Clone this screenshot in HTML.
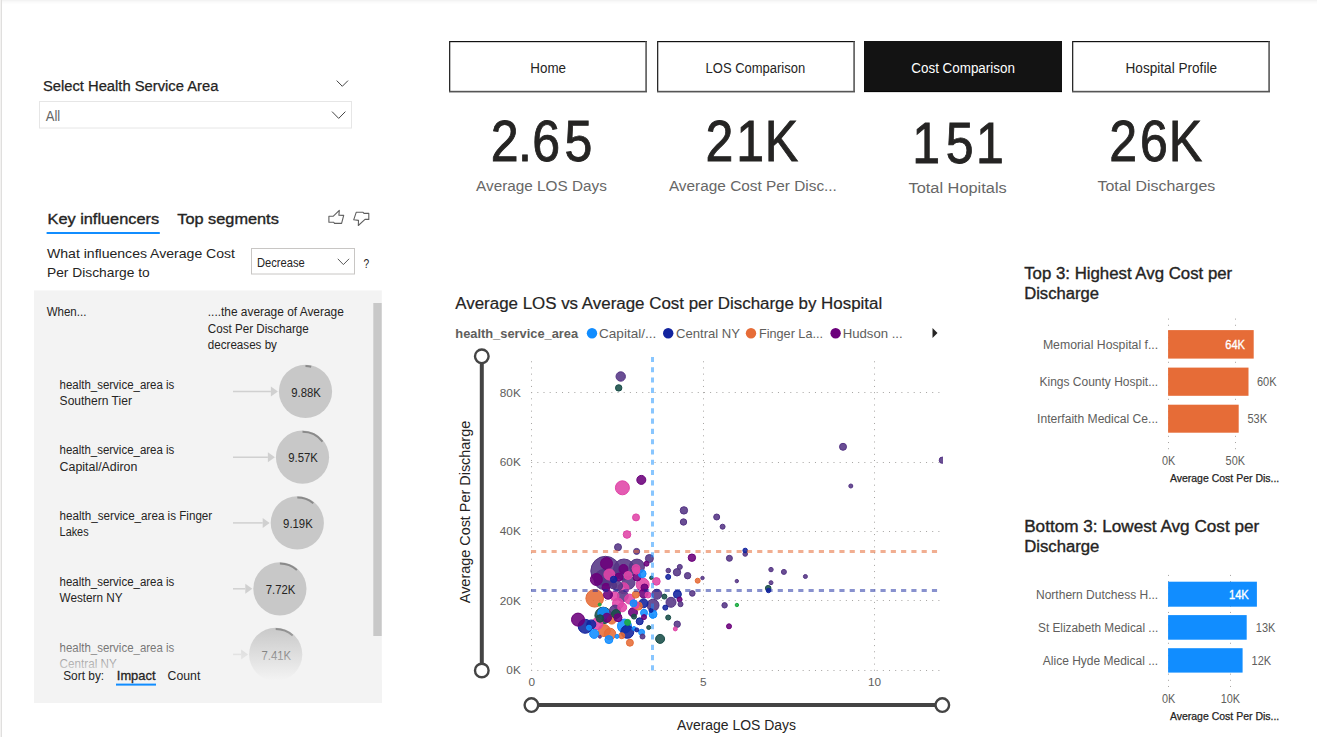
<!DOCTYPE html>
<html><head><meta charset="utf-8"><title>Cost Comparison</title>
<style>
html,body{margin:0;padding:0;background:#fff;width:1317px;height:737px;overflow:hidden}
svg{display:block;font-family:"Liberation Sans", Arial, sans-serif}
</style></head><body>
<svg width="1317" height="737" viewBox="0 0 1317 737">
<defs><linearGradient id="topsh" x1="0" y1="0" x2="0" y2="1"><stop offset="0" stop-color="#e9e9e9"/><stop offset="1" stop-color="#ffffff"/></linearGradient><linearGradient id="fade" x1="0" y1="0" x2="0" y2="1"><stop offset="0" stop-color="#f3f3f3" stop-opacity="0"/><stop offset="1" stop-color="#f3f3f3" stop-opacity="1"/></linearGradient><clipPath id="plotclip"><rect x="531" y="350" width="412" height="321"/></clipPath></defs>
<rect x="0" y="0" width="1317" height="1" fill="#f3f3f3"/>
<rect x="0" y="1" width="1317" height="1" fill="#f8f8f8"/>
<rect x="0" y="2" width="1317" height="1" fill="#fbfbfb"/>
<rect x="0" y="3" width="1317" height="1" fill="#fdfdfd"/>
<rect x="0" y="0" width="1" height="737" fill="#f3f2f1"/>
<rect x="1" y="0" width="1" height="737" fill="#e0dfde"/>
<text x="42.9" y="91.1" font-size="14" fill="#252423" textLength="175.5" lengthAdjust="spacingAndGlyphs" stroke="#252423" stroke-width="0.25">Select Health Service Area</text>
<path d="M336.7 80.6 L342.3 86.3 L348 80.6" fill="none" stroke="#444" stroke-width="1"/>
<rect x="39.5" y="101.5" width="312" height="26.5" fill="#fff" stroke="#e6e6e6" stroke-width="1"/>
<text x="45.7" y="120.9" font-size="14.5" fill="#666666" textLength="14.5" lengthAdjust="spacingAndGlyphs">All</text>
<path d="M332 111.6 L338.7 118.4 L345.4 111.6" fill="none" stroke="#444" stroke-width="1"/>
<text x="47.5" y="223.8" font-size="14.7" fill="#252423" textLength="111.6" lengthAdjust="spacingAndGlyphs" stroke="#252423" stroke-width="0.35">Key influencers</text>
<rect x="46.6" y="232" width="113.2" height="2" fill="#118DFF"/>
<text x="177.3" y="223.7" font-size="14.7" fill="#252423" textLength="101.5" lengthAdjust="spacingAndGlyphs" stroke="#252423" stroke-width="0.35">Top segments</text>
<g fill="none" stroke="#5f5f5f" stroke-width="1.1" stroke-linejoin="round"><path d="M328.9 216.3 H333.1 L339.3 210.4 L338.9 215.2 L343.7 215.4 L341.6 223.4 H334.5 L333.7 222.3 H328.9 Z"/><path d="M356.2 212.3 H363.1 L364 213.4 H368.8 V219.4 H365 L358.3 225.5 L358.5 220.4 L353.7 219.8 Z"/></g>
<text x="47.0" y="257.8" font-size="13.4" fill="#252423" textLength="188.0" lengthAdjust="spacingAndGlyphs">What influences Average Cost</text>
<text x="47.0" y="276.9" font-size="13.4" fill="#252423" textLength="102.7" lengthAdjust="spacingAndGlyphs">Per Discharge to</text>
<rect x="251.5" y="248.5" width="103" height="25.5" fill="#fff" stroke="#c8c6c4" stroke-width="1"/>
<text x="256.9" y="267.3" font-size="12.6" fill="#252423" textLength="47.8" lengthAdjust="spacingAndGlyphs">Decrease</text>
<path d="M337.8 258.8 L343.4 264.6 L349.1 258.8" fill="none" stroke="#5a5a5a" stroke-width="1"/>
<text x="363.5" y="267.5" font-size="13" fill="#252423" textLength="5.7" lengthAdjust="spacingAndGlyphs">?</text>
<rect x="34" y="290.4" width="347.8" height="412.4" fill="#f3f3f3"/>
<text x="46.7" y="316.1" font-size="12" fill="#252423" textLength="39.7" lengthAdjust="spacingAndGlyphs">When...</text>
<text x="207.8" y="316.0" font-size="12" fill="#252423" textLength="136.0" lengthAdjust="spacingAndGlyphs">....the average of Average</text>
<text x="207.8" y="332.6" font-size="12" fill="#252423" textLength="101.0" lengthAdjust="spacingAndGlyphs">Cost Per Discharge</text>
<text x="207.8" y="348.8" font-size="12" fill="#252423" textLength="69.1" lengthAdjust="spacingAndGlyphs">decreases by</text>
<text x="59.6" y="388.5" font-size="12" fill="#252423" textLength="114.7" lengthAdjust="spacingAndGlyphs">health_service_area is</text>
<text x="59.6" y="404.7" font-size="12" fill="#252423" textLength="72.3" lengthAdjust="spacingAndGlyphs">Southern Tier</text>
<line x1="233" y1="391.4" x2="270.9" y2="391.4" stroke="#d0d0d0" stroke-width="1.5"/>
<path d="M270.9 386.4 L277.9 391.4 L270.9 396.4 z" fill="#d0d0d0"/>
<circle cx="305.5" cy="391.4" r="26.6" fill="#c8c8c8"/>
<path d="M305.5 366.0 A25.400000000000002 25.400000000000002 0 0 1 311.2 366.7" fill="none" stroke="#8a8a8a" stroke-width="2"/>
<text x="291.3" y="396.6" font-size="12" fill="#252423" textLength="29.6" lengthAdjust="spacingAndGlyphs">9.88K</text>
<text x="59.6" y="454.3" font-size="12" fill="#252423" textLength="114.7" lengthAdjust="spacingAndGlyphs">health_service_area is</text>
<text x="59.6" y="470.5" font-size="12" fill="#252423" textLength="77.8" lengthAdjust="spacingAndGlyphs">Capital/Adiron</text>
<line x1="233" y1="457.2" x2="267.9" y2="457.2" stroke="#d0d0d0" stroke-width="1.5"/>
<path d="M267.9 452.2 L274.9 457.2 L267.9 462.2 z" fill="#d0d0d0"/>
<circle cx="302.5" cy="457.2" r="26.6" fill="#c8c8c8"/>
<path d="M302.5 431.8 A25.400000000000002 25.400000000000002 0 0 1 322.5 441.6" fill="none" stroke="#8a8a8a" stroke-width="2"/>
<text x="288.3" y="462.4" font-size="12" fill="#252423" textLength="29.6" lengthAdjust="spacingAndGlyphs">9.57K</text>
<text x="59.6" y="520.0" font-size="12" fill="#252423" textLength="152.6" lengthAdjust="spacingAndGlyphs">health_service_area is Finger</text>
<text x="59.6" y="536.2" font-size="12" fill="#252423" textLength="29.0" lengthAdjust="spacingAndGlyphs">Lakes</text>
<line x1="233" y1="522.9" x2="262.7" y2="522.9" stroke="#d0d0d0" stroke-width="1.5"/>
<path d="M262.7 517.9 L269.7 522.9 L262.7 527.9 z" fill="#d0d0d0"/>
<circle cx="297.3" cy="522.9" r="26.6" fill="#c8c8c8"/>
<path d="M297.3 497.5 A25.400000000000002 25.400000000000002 0 0 1 313.3 503.2" fill="none" stroke="#8a8a8a" stroke-width="2"/>
<text x="283.1" y="528.1" font-size="12" fill="#252423" textLength="29.6" lengthAdjust="spacingAndGlyphs">9.19K</text>
<text x="59.6" y="585.9" font-size="12" fill="#252423" textLength="114.7" lengthAdjust="spacingAndGlyphs">health_service_area is</text>
<text x="59.6" y="602.1" font-size="12" fill="#252423" textLength="63.0" lengthAdjust="spacingAndGlyphs">Western NY</text>
<line x1="233" y1="588.8" x2="245.3" y2="588.8" stroke="#d0d0d0" stroke-width="1.5"/>
<path d="M245.3 583.8 L252.3 588.8 L245.3 593.8 z" fill="#d0d0d0"/>
<circle cx="279.9" cy="588.8" r="26.6" fill="#c8c8c8"/>
<path d="M279.9 563.4 A25.400000000000002 25.400000000000002 0 0 1 296.9 569.9" fill="none" stroke="#8a8a8a" stroke-width="2"/>
<text x="265.7" y="594.0" font-size="12" fill="#252423" textLength="29.6" lengthAdjust="spacingAndGlyphs">7.72K</text>
<text x="59.6" y="651.5" font-size="12" fill="#252423" textLength="114.7" lengthAdjust="spacingAndGlyphs">health_service_area is</text>
<text x="59.6" y="667.7" font-size="12" fill="#252423" textLength="57.1" lengthAdjust="spacingAndGlyphs">Central NY</text>
<line x1="233" y1="654.4" x2="241.1" y2="654.4" stroke="#d0d0d0" stroke-width="1.5"/>
<path d="M241.1 649.4 L248.1 654.4 L241.1 659.4 z" fill="#d0d0d0"/>
<circle cx="275.7" cy="654.4" r="26.6" fill="#c8c8c8"/>
<path d="M275.7 629.0 A25.400000000000002 25.400000000000002 0 0 1 292.7 635.5" fill="none" stroke="#8a8a8a" stroke-width="2"/>
<text x="261.5" y="659.6" font-size="12" fill="#252423" textLength="29.6" lengthAdjust="spacingAndGlyphs">7.41K</text>
<rect x="34" y="627" width="340" height="53" fill="url(#fade)"/>
<rect x="34" y="680" width="348" height="23" fill="#f3f3f3"/>
<rect x="373.3" y="303" width="8.4" height="333" fill="#c8c8c8"/>
<text x="63.2" y="679.8" font-size="12.6" fill="#252423" textLength="41.0" lengthAdjust="spacingAndGlyphs">Sort by:</text>
<text x="116.8" y="679.8" font-size="12.6" fill="#252423" textLength="38.7" lengthAdjust="spacingAndGlyphs" stroke="#252423" stroke-width="0.3">Impact</text>
<rect x="116" y="683.6" width="40" height="2" fill="#118DFF"/>
<text x="167.6" y="679.8" font-size="12.6" fill="#252423" textLength="32.7" lengthAdjust="spacingAndGlyphs">Count</text>
<rect x="449" y="92" width="198" height="1" fill="#000" opacity="0.12"/>
<rect x="449" y="41" width="198" height="51.5" fill="#ffffff"/>
<rect x="449" y="41" width="198" height="1.2" fill="#111"/>
<rect x="449" y="41" width="1.3" height="51" fill="#2a2a2a"/>
<rect x="645.2" y="41.5" width="1.8" height="50.5" fill="#6a6a6a"/>
<rect x="449" y="90.8" width="198" height="1.6" fill="#555555"/>
<text x="530.3" y="72.9" font-size="14" fill="#252423" textLength="35.7" lengthAdjust="spacingAndGlyphs">Home</text>
<rect x="657" y="92" width="198" height="1" fill="#000" opacity="0.12"/>
<rect x="657" y="41" width="198" height="51.5" fill="#ffffff"/>
<rect x="657" y="41" width="198" height="1.2" fill="#111"/>
<rect x="657" y="41" width="1.3" height="51" fill="#2a2a2a"/>
<rect x="853.2" y="41.5" width="1.8" height="50.5" fill="#6a6a6a"/>
<rect x="657" y="90.8" width="198" height="1.6" fill="#555555"/>
<text x="705.6" y="72.9" font-size="14" fill="#252423" textLength="99.6" lengthAdjust="spacingAndGlyphs">LOS Comparison</text>
<rect x="864" y="92" width="198" height="1" fill="#000" opacity="0.12"/>
<rect x="864" y="41" width="198" height="51" fill="#131313"/>
<rect x="864" y="91" width="198" height="1" fill="#050505"/>
<text x="911.3" y="72.9" font-size="14" fill="#ffffff" textLength="103.6" lengthAdjust="spacingAndGlyphs">Cost Comparison</text>
<rect x="1072" y="92" width="198" height="1" fill="#000" opacity="0.12"/>
<rect x="1072" y="41" width="198" height="51.5" fill="#ffffff"/>
<rect x="1072" y="41" width="198" height="1.2" fill="#111"/>
<rect x="1072" y="41" width="1.3" height="51" fill="#2a2a2a"/>
<rect x="1268.2" y="41.5" width="1.8" height="50.5" fill="#6a6a6a"/>
<rect x="1072" y="90.8" width="198" height="1.6" fill="#555555"/>
<text x="1125.5" y="72.9" font-size="14" fill="#252423" textLength="91.5" lengthAdjust="spacingAndGlyphs">Hospital Profile</text>
<text transform="scale(0.87,1)" x="564.02 595.34 611.67 648.85" y="161.1" font-size="57.5" fill="#252423" stroke="#252423" stroke-width="0.9">2.65</text>
<text x="476.1" y="190.9" font-size="15.3" fill="#676767" textLength="130.7" lengthAdjust="spacingAndGlyphs">Average LOS Days</text>
<text transform="scale(0.87,1)" x="810.80 846.14 879.08" y="160.8" font-size="57.5" fill="#252423" stroke="#252423" stroke-width="0.9">21K</text>
<text x="668.9" y="191.4" font-size="15.3" fill="#676767" textLength="168.0" lengthAdjust="spacingAndGlyphs">Average Cost Per Disc...</text>
<text transform="scale(0.87,1)" x="1048.67 1087.01 1121.89" y="162.8" font-size="57.5" fill="#252423" stroke="#252423" stroke-width="0.9">151</text>
<text x="908.5" y="192.8" font-size="15.3" fill="#676767" textLength="98.2" lengthAdjust="spacingAndGlyphs">Total Hopitals</text>
<text transform="scale(0.87,1)" x="1275.06 1310.40 1343.45" y="160.9" font-size="57.5" fill="#252423" stroke="#252423" stroke-width="0.9">26K</text>
<text x="1097.5" y="190.6" font-size="15.3" fill="#676767" textLength="117.7" lengthAdjust="spacingAndGlyphs">Total Discharges</text>
<text x="455.3" y="309.0" font-size="16" fill="#252423" textLength="426.9" lengthAdjust="spacingAndGlyphs" stroke="#252423" stroke-width="0.2">Average LOS vs Average Cost per Discharge by Hospital</text>
<text x="455.3" y="337.5" font-size="13" fill="#605E5C" font-weight="bold" textLength="122.8" lengthAdjust="spacingAndGlyphs">health_service_area</text>
<circle cx="592" cy="333.3" r="5.2" fill="#118DFF"/>
<text x="599.0" y="337.5" font-size="13" fill="#605E5C" textLength="57.3" lengthAdjust="spacingAndGlyphs">Capital/...</text>
<circle cx="668.2" cy="333.3" r="5.2" fill="#12239E"/>
<text x="676.0" y="337.5" font-size="13" fill="#605E5C" textLength="64.0" lengthAdjust="spacingAndGlyphs">Central NY</text>
<circle cx="751" cy="333.3" r="5.2" fill="#E66C37"/>
<text x="759.0" y="337.5" font-size="13" fill="#605E5C" textLength="64.0" lengthAdjust="spacingAndGlyphs">Finger La...</text>
<circle cx="835.6" cy="333.3" r="5.2" fill="#6B007B"/>
<text x="842.7" y="337.5" font-size="13" fill="#605E5C" textLength="60.0" lengthAdjust="spacingAndGlyphs">Hudson ...</text>
<path d="M932.5 328 L937.5 333 L932.5 338 z" fill="#252423"/>
<text transform="translate(469.5,603.2) rotate(-90)" font-size="14" fill="#252423" textLength="182.4" lengthAdjust="spacingAndGlyphs">Average Cost Per Discharge</text>
<text x="676.9" y="729.8" font-size="14" fill="#252423" textLength="119.2" lengthAdjust="spacingAndGlyphs">Average LOS Days</text>
<line x1="531.15" y1="670.5" x2="941" y2="670.5" stroke="#a8a6a4" stroke-width="1" stroke-dasharray="1.03 5.14"/>
<text x="520.8" y="674.1" font-size="11.8" fill="#605E5C" text-anchor="end">0K</text>
<line x1="531.15" y1="600.5" x2="941" y2="600.5" stroke="#a8a6a4" stroke-width="1" stroke-dasharray="1.03 5.14"/>
<text x="520.8" y="604.7" font-size="11.8" fill="#605E5C" text-anchor="end">20K</text>
<line x1="531.15" y1="531.5" x2="941" y2="531.5" stroke="#a8a6a4" stroke-width="1" stroke-dasharray="1.03 5.14"/>
<text x="520.8" y="535.4" font-size="11.8" fill="#605E5C" text-anchor="end">40K</text>
<line x1="531.15" y1="462.5" x2="941" y2="462.5" stroke="#a8a6a4" stroke-width="1" stroke-dasharray="1.03 5.14"/>
<text x="520.8" y="466.1" font-size="11.8" fill="#605E5C" text-anchor="end">60K</text>
<line x1="531.15" y1="392.5" x2="941" y2="392.5" stroke="#a8a6a4" stroke-width="1" stroke-dasharray="1.03 5.14"/>
<text x="520.8" y="396.7" font-size="11.8" fill="#605E5C" text-anchor="end">80K</text>
<line x1="531.5" y1="670.8" x2="531.5" y2="358" stroke="#a8a6a4" stroke-width="1" stroke-dasharray="1.03 5.14"/>
<text x="531.7" y="685.7" font-size="11.8" fill="#605E5C" text-anchor="middle">0</text>
<line x1="703.5" y1="670.8" x2="703.5" y2="358" stroke="#a8a6a4" stroke-width="1" stroke-dasharray="1.03 5.14"/>
<text x="703.2" y="685.7" font-size="11.8" fill="#605E5C" text-anchor="middle">5</text>
<line x1="874.5" y1="670.8" x2="874.5" y2="358" stroke="#a8a6a4" stroke-width="1" stroke-dasharray="1.03 5.14"/>
<text x="874.6" y="685.7" font-size="11.8" fill="#605E5C" text-anchor="middle">10</text>
<g stroke="#444444" fill="none"><line x1="481.8" y1="363" x2="481.8" y2="663.5" stroke-width="4"/><circle cx="481.8" cy="356.3" r="6.8" stroke-width="2.4" fill="#fff"/><circle cx="481.8" cy="670.5" r="6.8" stroke-width="2.4" fill="#fff"/><line x1="538" y1="705.1" x2="935.5" y2="705.1" stroke-width="4"/><circle cx="531.4" cy="705.1" r="6.8" stroke-width="2.4" fill="#fff"/><circle cx="942.3" cy="705.1" r="6.8" stroke-width="2.4" fill="#fff"/></g>
<g clip-path="url(#plotclip)" fill-opacity="0.88">
<circle cx="605.5" cy="571.0" r="14.7" fill="#553585" stroke="#553585" stroke-width="1"/>
<circle cx="624.0" cy="569.5" r="10.5" fill="#553585" stroke="#553585" stroke-width="1"/>
<circle cx="604.0" cy="579.5" r="10.0" fill="#553585" stroke="#553585" stroke-width="1"/>
<circle cx="594.7" cy="598.3" r="8.8" fill="#E66C37" stroke="#E66C37" stroke-width="1"/>
<circle cx="603.2" cy="615.5" r="8.3" fill="#184D48" stroke="#184D48" stroke-width="1"/>
<circle cx="637.0" cy="566.6" r="7.5" fill="#553585" stroke="#553585" stroke-width="1"/>
<circle cx="622.4" cy="487.8" r="7.0" fill="#E044A7" stroke="#E044A7" stroke-width="1"/>
<circle cx="585.2" cy="626.3" r="7.0" fill="#12239E" stroke="#12239E" stroke-width="1"/>
<circle cx="624.5" cy="626.1" r="7.0" fill="#118DFF" stroke="#118DFF" stroke-width="1"/>
<circle cx="628.5" cy="582.7" r="6.5" fill="#553585" stroke="#553585" stroke-width="1"/>
<circle cx="642.7" cy="584.6" r="6.5" fill="#E044A7" stroke="#E044A7" stroke-width="1"/>
<circle cx="578.0" cy="619.6" r="6.5" fill="#6B007B" stroke="#6B007B" stroke-width="1"/>
<circle cx="627.3" cy="631.8" r="6.5" fill="#12239E" stroke="#12239E" stroke-width="1"/>
<circle cx="653.0" cy="605.2" r="6.0" fill="#553585" stroke="#553585" stroke-width="1"/>
<circle cx="606.5" cy="563.5" r="6.0" fill="#6B007B" stroke="#6B007B" stroke-width="1"/>
<circle cx="596.4" cy="579.5" r="6.0" fill="#6B007B" stroke="#6B007B" stroke-width="1"/>
<circle cx="604.2" cy="630.6" r="6.0" fill="#E66C37" stroke="#E66C37" stroke-width="1"/>
<circle cx="597.0" cy="623.8" r="5.8" fill="#E044A7" stroke="#E044A7" stroke-width="1"/>
<circle cx="610.0" cy="634.0" r="5.8" fill="#E66C37" stroke="#E66C37" stroke-width="1"/>
<circle cx="603.5" cy="613.2" r="5.7" fill="#118DFF" stroke="#118DFF" stroke-width="1"/>
<circle cx="609.4" cy="574.5" r="5.5" fill="#E044A7" stroke="#E044A7" stroke-width="1"/>
<circle cx="623.5" cy="588.2" r="5.5" fill="#E044A7" stroke="#E044A7" stroke-width="1"/>
<circle cx="622.8" cy="596.0" r="5.5" fill="#553585" stroke="#553585" stroke-width="1"/>
<circle cx="618.0" cy="603.5" r="5.5" fill="#E044A7" stroke="#E044A7" stroke-width="1"/>
<circle cx="615.0" cy="610.6" r="5.5" fill="#553585" stroke="#553585" stroke-width="1"/>
<circle cx="671.0" cy="602.3" r="5.0" fill="#553585" stroke="#553585" stroke-width="1"/>
<circle cx="656.8" cy="594.3" r="5.0" fill="#553585" stroke="#553585" stroke-width="1"/>
<circle cx="617.5" cy="586.0" r="5.0" fill="#553585" stroke="#553585" stroke-width="1"/>
<circle cx="629.6" cy="599.1" r="5.0" fill="#E044A7" stroke="#E044A7" stroke-width="1"/>
<circle cx="620.7" cy="376.5" r="4.7" fill="#553585" stroke="#553585" stroke-width="1"/>
<circle cx="641.3" cy="479.9" r="4.5" fill="#6B007B" stroke="#6B007B" stroke-width="1"/>
<circle cx="660.1" cy="638.9" r="4.5" fill="#184D48" stroke="#184D48" stroke-width="1"/>
<circle cx="614.5" cy="596.0" r="4.5" fill="#E044A7" stroke="#E044A7" stroke-width="1"/>
<circle cx="623.5" cy="569.0" r="4.5" fill="#6B007B" stroke="#6B007B" stroke-width="1"/>
<circle cx="608.0" cy="594.7" r="4.5" fill="#6B007B" stroke="#6B007B" stroke-width="1"/>
<circle cx="643.6" cy="593.5" r="4.5" fill="#6B007B" stroke="#6B007B" stroke-width="1"/>
<circle cx="622.2" cy="607.3" r="4.5" fill="#E044A7" stroke="#E044A7" stroke-width="1"/>
<circle cx="591.3" cy="624.4" r="4.5" fill="#12239E" stroke="#12239E" stroke-width="1"/>
<circle cx="594.2" cy="633.9" r="4.5" fill="#118DFF" stroke="#118DFF" stroke-width="1"/>
<circle cx="611.8" cy="619.6" r="4.5" fill="#E66C37" stroke="#E66C37" stroke-width="1"/>
<circle cx="607.0" cy="617.7" r="4.5" fill="#6B007B" stroke="#6B007B" stroke-width="1"/>
<circle cx="616.0" cy="614.0" r="4.5" fill="#184D48" stroke="#184D48" stroke-width="1"/>
<circle cx="643.5" cy="603.3" r="4.5" fill="#12239E" stroke="#12239E" stroke-width="1"/>
<circle cx="633.0" cy="612.3" r="4.5" fill="#6B007B" stroke="#6B007B" stroke-width="1"/>
<circle cx="677.4" cy="594.3" r="4.0" fill="#12239E" stroke="#12239E" stroke-width="1"/>
<circle cx="649.4" cy="558.5" r="4.0" fill="#553585" stroke="#553585" stroke-width="1"/>
<circle cx="628.0" cy="575.5" r="4.0" fill="#E044A7" stroke="#E044A7" stroke-width="1"/>
<circle cx="636.0" cy="568.5" r="4.0" fill="#E044A7" stroke="#E044A7" stroke-width="1"/>
<circle cx="619.0" cy="577.0" r="4.0" fill="#6B007B" stroke="#6B007B" stroke-width="1"/>
<circle cx="637.0" cy="577.0" r="4.0" fill="#6B007B" stroke="#6B007B" stroke-width="1"/>
<circle cx="606.0" cy="587.3" r="4.0" fill="#6B007B" stroke="#6B007B" stroke-width="1"/>
<circle cx="618.0" cy="617.7" r="4.0" fill="#6B007B" stroke="#6B007B" stroke-width="1"/>
<circle cx="608.9" cy="639.6" r="4.0" fill="#118DFF" stroke="#118DFF" stroke-width="1"/>
<circle cx="638.3" cy="606.1" r="4.0" fill="#E66C37" stroke="#E66C37" stroke-width="1"/>
<circle cx="653.0" cy="614.2" r="4.0" fill="#118DFF" stroke="#118DFF" stroke-width="1"/>
<circle cx="642.2" cy="573.8" r="3.9000000000000004" fill="#118DFF" stroke="#118DFF" stroke-width="1"/>
<circle cx="627.0" cy="534.5" r="3.8" fill="#E044A7" stroke="#E044A7" stroke-width="1"/>
<circle cx="656.4" cy="581.4" r="3.8" fill="#E044A7" stroke="#E044A7" stroke-width="1"/>
<circle cx="683.9" cy="510.4" r="3.7" fill="#553585" stroke="#553585" stroke-width="1"/>
<circle cx="691.9" cy="557.7" r="3.7" fill="#6B007B" stroke="#6B007B" stroke-width="1"/>
<circle cx="677.0" cy="572.3" r="3.7" fill="#553585" stroke="#553585" stroke-width="1"/>
<circle cx="600.0" cy="618.5" r="3.7" fill="#184D48" stroke="#184D48" stroke-width="1"/>
<circle cx="636.0" cy="517.4" r="3.5" fill="#E044A7" stroke="#E044A7" stroke-width="1"/>
<circle cx="618.0" cy="547.2" r="3.5" fill="#553585" stroke="#553585" stroke-width="1"/>
<circle cx="843.0" cy="446.8" r="3.5" fill="#553585" stroke="#553585" stroke-width="1"/>
<circle cx="629.9" cy="642.7" r="3.5" fill="#E66C37" stroke="#E66C37" stroke-width="1"/>
<circle cx="644.5" cy="587.5" r="3.5" fill="#6B007B" stroke="#6B007B" stroke-width="1"/>
<circle cx="613.2" cy="585.4" r="3.5" fill="#553585" stroke="#553585" stroke-width="1"/>
<circle cx="635.8" cy="594.6" r="3.5" fill="#E66C37" stroke="#E66C37" stroke-width="1"/>
<circle cx="635.6" cy="605.0" r="3.5" fill="#E044A7" stroke="#E044A7" stroke-width="1"/>
<circle cx="636.3" cy="570.7" r="3.5" fill="#E044A7" stroke="#E044A7" stroke-width="1"/>
<circle cx="633.5" cy="603.3" r="3.5" fill="#118DFF" stroke="#118DFF" stroke-width="1"/>
<circle cx="644.0" cy="612.8" r="3.5" fill="#118DFF" stroke="#118DFF" stroke-width="1"/>
<circle cx="639.7" cy="621.3" r="3.5" fill="#12239E" stroke="#12239E" stroke-width="1"/>
<circle cx="618.7" cy="387.9" r="3.2" fill="#184D48" stroke="#184D48" stroke-width="1"/>
<circle cx="683.5" cy="522.0" r="3.2" fill="#553585" stroke="#553585" stroke-width="1"/>
<circle cx="687.6" cy="575.7" r="3.2" fill="#553585" stroke="#553585" stroke-width="1"/>
<circle cx="677.2" cy="624.2" r="3.2" fill="#553585" stroke="#553585" stroke-width="1"/>
<circle cx="613.6" cy="579.4" r="3.2" fill="#12239E" stroke="#12239E" stroke-width="1"/>
<circle cx="942.3" cy="460.2" r="3.1" fill="#553585" stroke="#553585" stroke-width="1"/>
<circle cx="636.6" cy="551.4" r="3.0" fill="#553585" stroke="#553585" stroke-width="1"/>
<circle cx="716.7" cy="517.0" r="3.0" fill="#553585" stroke="#553585" stroke-width="1"/>
<circle cx="729.4" cy="558.3" r="3.0" fill="#553585" stroke="#553585" stroke-width="1"/>
<circle cx="648.0" cy="595.0" r="3.0" fill="#E044A7" stroke="#E044A7" stroke-width="1"/>
<circle cx="627.6" cy="622.4" r="3.0" fill="#1AAB40" stroke="#1AAB40" stroke-width="1"/>
<circle cx="621.7" cy="635.7" r="3.0" fill="#E66C37" stroke="#E66C37" stroke-width="1"/>
<circle cx="641.6" cy="632.3" r="3.0" fill="#118DFF" stroke="#118DFF" stroke-width="1"/>
<circle cx="768.2" cy="588.2" r="2.8" fill="#184D48" stroke="#184D48" stroke-width="1"/>
<circle cx="692.3" cy="593.4" r="2.8" fill="#553585" stroke="#553585" stroke-width="1"/>
<circle cx="724.6" cy="605.3" r="2.7" fill="#553585" stroke="#553585" stroke-width="1"/>
<circle cx="722.6" cy="526.7" r="2.5" fill="#553585" stroke="#553585" stroke-width="1"/>
<circle cx="679.8" cy="566.9" r="2.5" fill="#553585" stroke="#553585" stroke-width="1"/>
<circle cx="668.2" cy="576.9" r="2.5" fill="#12239E" stroke="#12239E" stroke-width="1"/>
<circle cx="697.7" cy="580.7" r="2.5" fill="#E66C37" stroke="#E66C37" stroke-width="1"/>
<circle cx="783.9" cy="571.9" r="2.5" fill="#553585" stroke="#553585" stroke-width="1"/>
<circle cx="729.0" cy="626.3" r="2.5" fill="#6B007B" stroke="#6B007B" stroke-width="1"/>
<circle cx="679.6" cy="599.5" r="2.5" fill="#6B007B" stroke="#6B007B" stroke-width="1"/>
<circle cx="680.5" cy="604.2" r="2.5" fill="#553585" stroke="#553585" stroke-width="1"/>
<circle cx="665.3" cy="607.6" r="2.5" fill="#12239E" stroke="#12239E" stroke-width="1"/>
<circle cx="664.4" cy="596.6" r="2.5" fill="#184D48" stroke="#184D48" stroke-width="1"/>
<circle cx="646.5" cy="563.7" r="2.5" fill="#6B007B" stroke="#6B007B" stroke-width="1"/>
<circle cx="668.2" cy="617.5" r="2.5" fill="#184D48" stroke="#184D48" stroke-width="1"/>
<circle cx="589.0" cy="627.7" r="2.5" fill="#118DFF" stroke="#118DFF" stroke-width="1"/>
<circle cx="642.5" cy="636.5" r="2.5" fill="#553585" stroke="#553585" stroke-width="1"/>
<circle cx="644.0" cy="617.1" r="2.5" fill="#6B007B" stroke="#6B007B" stroke-width="1"/>
<circle cx="634.0" cy="616.6" r="2.5" fill="#184D48" stroke="#184D48" stroke-width="1"/>
<circle cx="745.2" cy="554.0" r="2.3" fill="#553585" stroke="#553585" stroke-width="1"/>
<circle cx="745.2" cy="550.5" r="2.3" fill="#12239E" stroke="#12239E" stroke-width="1"/>
<circle cx="668.3" cy="570.6" r="2.3" fill="#553585" stroke="#553585" stroke-width="1"/>
<circle cx="771.0" cy="569.6" r="2.2" fill="#553585" stroke="#553585" stroke-width="1"/>
<circle cx="768.5" cy="590.5" r="2.2" fill="#12239E" stroke="#12239E" stroke-width="1"/>
<circle cx="850.8" cy="486.0" r="2.0" fill="#553585" stroke="#553585" stroke-width="1"/>
<circle cx="805.4" cy="576.5" r="2.0" fill="#553585" stroke="#553585" stroke-width="1"/>
<circle cx="771.0" cy="582.7" r="2.0" fill="#553585" stroke="#553585" stroke-width="1"/>
<circle cx="675.3" cy="628.9" r="2.0" fill="#E044A7" stroke="#E044A7" stroke-width="1"/>
<circle cx="617.0" cy="636.4" r="2.0" fill="#118DFF" stroke="#118DFF" stroke-width="1"/>
<circle cx="634.0" cy="628.5" r="2.0" fill="#118DFF" stroke="#118DFF" stroke-width="1"/>
<circle cx="636.8" cy="629.9" r="2.0" fill="#12239E" stroke="#12239E" stroke-width="1"/>
<circle cx="651.0" cy="610.4" r="2.0" fill="#12239E" stroke="#12239E" stroke-width="1"/>
<circle cx="648.7" cy="627.5" r="2.0" fill="#184D48" stroke="#184D48" stroke-width="1"/>
<circle cx="702.5" cy="578.0" r="1.7000000000000002" fill="#553585" stroke="#553585" stroke-width="1"/>
<circle cx="736.8" cy="581.1" r="1.7000000000000002" fill="#553585" stroke="#553585" stroke-width="1"/>
<circle cx="736.9" cy="605.0" r="1.7000000000000002" fill="#1AAB40" stroke="#1AAB40" stroke-width="1"/>
<circle cx="651.3" cy="577.8" r="1.7000000000000002" fill="#184D48" stroke="#184D48" stroke-width="1"/>
<circle cx="599.7" cy="604.6" r="1.5" fill="#1AAB40" stroke="#1AAB40" stroke-width="1"/>
<circle cx="599.9" cy="636.7" r="1.5" fill="#553585" stroke="#553585" stroke-width="1"/>
</g>
<line x1="531" y1="551.5" x2="940" y2="551.5" stroke="#E66C37" stroke-opacity="0.55" stroke-width="3" stroke-dasharray="5.14 5.14"/>
<line x1="531" y1="590.5" x2="940" y2="590.5" stroke="#12239E" stroke-opacity="0.5" stroke-width="3" stroke-dasharray="5.14 5.14"/>
<line x1="652.5" y1="356.9" x2="652.5" y2="671" stroke="#118DFF" stroke-opacity="0.5" stroke-width="3" stroke-dasharray="5.14 5.14"/>
<text x="1024.2" y="279.2" font-size="16" fill="#252423" textLength="208.0" lengthAdjust="spacingAndGlyphs" stroke="#252423" stroke-width="0.35">Top 3: Highest Avg Cost per</text>
<text x="1024.2" y="298.7" font-size="16" fill="#252423" textLength="74.7" lengthAdjust="spacingAndGlyphs" stroke="#252423" stroke-width="0.35">Discharge</text>
<line x1="1168.5" y1="449.2" x2="1168.5" y2="317" stroke="#a8a6a4" stroke-width="1" stroke-dasharray="1.03 5.14"/>
<line x1="1235.5" y1="449.2" x2="1235.5" y2="317" stroke="#a8a6a4" stroke-width="1" stroke-dasharray="1.03 5.14"/>
<rect x="1168.1" y="330.1" width="85.6" height="28.5" fill="#E66C37"/>
<text x="1158.2" y="348.9" font-size="12" fill="#605E5C" text-anchor="end" textLength="115.3" lengthAdjust="spacingAndGlyphs">Memorial Hospital f...</text>
<rect x="1168.1" y="367.6" width="80.4" height="28.19999999999999" fill="#E66C37"/>
<text x="1158.2" y="386.2" font-size="12" fill="#605E5C" text-anchor="end" textLength="118.7" lengthAdjust="spacingAndGlyphs">Kings County Hospit...</text>
<rect x="1168.1" y="404.7" width="70.6" height="28.0" fill="#E66C37"/>
<text x="1158.2" y="423.2" font-size="12" fill="#605E5C" text-anchor="end" textLength="121.1" lengthAdjust="spacingAndGlyphs">Interfaith Medical Ce...</text>
<text x="1225.2" y="348.7" font-size="12" fill="#ffffff" textLength="19.8" lengthAdjust="spacingAndGlyphs" stroke="#ffffff" stroke-width="0.35">64K</text>
<text x="1257.0" y="386.0" font-size="12" fill="#605E5C" textLength="19.6" lengthAdjust="spacingAndGlyphs">60K</text>
<text x="1247.5" y="423.0" font-size="12" fill="#605E5C" textLength="19.6" lengthAdjust="spacingAndGlyphs">53K</text>
<text x="1162.0" y="464.7" font-size="12" fill="#605E5C" textLength="13.3" lengthAdjust="spacingAndGlyphs">0K</text>
<text x="1225.6" y="464.7" font-size="12" fill="#605E5C" textLength="19.4" lengthAdjust="spacingAndGlyphs">50K</text>
<text x="1169.9" y="481.6" font-size="10.5" fill="#252423" textLength="109.4" lengthAdjust="spacingAndGlyphs" stroke="#252423" stroke-width="0.25">Average Cost Per Dis...</text>
<text x="1024.2" y="531.5" font-size="16" fill="#252423" textLength="235.0" lengthAdjust="spacingAndGlyphs" stroke="#252423" stroke-width="0.35">Bottom 3: Lowest Avg Cost per</text>
<text x="1024.2" y="551.8" font-size="16" fill="#252423" textLength="75.2" lengthAdjust="spacingAndGlyphs" stroke="#252423" stroke-width="0.35">Discharge</text>
<line x1="1168.5" y1="687" x2="1168.5" y2="571" stroke="#a8a6a4" stroke-width="1" stroke-dasharray="1.03 5.14"/>
<line x1="1230.5" y1="687" x2="1230.5" y2="571" stroke="#a8a6a4" stroke-width="1" stroke-dasharray="1.03 5.14"/>
<rect x="1168.1" y="581.7" width="88.8" height="25.0" fill="#118DFF"/>
<text x="1158.2" y="598.7" font-size="12" fill="#605E5C" text-anchor="end" textLength="122.2" lengthAdjust="spacingAndGlyphs">Northern Dutchess H...</text>
<rect x="1168.1" y="615.1" width="78.6" height="24.600000000000023" fill="#118DFF"/>
<text x="1158.2" y="631.9" font-size="12" fill="#605E5C" text-anchor="end" textLength="120.2" lengthAdjust="spacingAndGlyphs">St Elizabeth Medical ...</text>
<rect x="1168.1" y="648.2" width="74.5" height="24.399999999999977" fill="#118DFF"/>
<text x="1158.2" y="664.9" font-size="12" fill="#605E5C" text-anchor="end" textLength="115.4" lengthAdjust="spacingAndGlyphs">Alice Hyde Medical ...</text>
<text x="1229.0" y="598.5" font-size="12" fill="#ffffff" textLength="19.8" lengthAdjust="spacingAndGlyphs" stroke="#ffffff" stroke-width="0.35">14K</text>
<text x="1255.8" y="631.7" font-size="12" fill="#605E5C" textLength="19.6" lengthAdjust="spacingAndGlyphs">13K</text>
<text x="1251.6" y="664.7" font-size="12" fill="#605E5C" textLength="19.6" lengthAdjust="spacingAndGlyphs">12K</text>
<text x="1162.0" y="703.2" font-size="12" fill="#605E5C" textLength="13.3" lengthAdjust="spacingAndGlyphs">0K</text>
<text x="1220.7" y="703.2" font-size="12" fill="#605E5C" textLength="19.4" lengthAdjust="spacingAndGlyphs">10K</text>
<text x="1169.9" y="720.3" font-size="10.5" fill="#252423" textLength="109.4" lengthAdjust="spacingAndGlyphs" stroke="#252423" stroke-width="0.25">Average Cost Per Dis...</text>
</svg>
</body></html>
